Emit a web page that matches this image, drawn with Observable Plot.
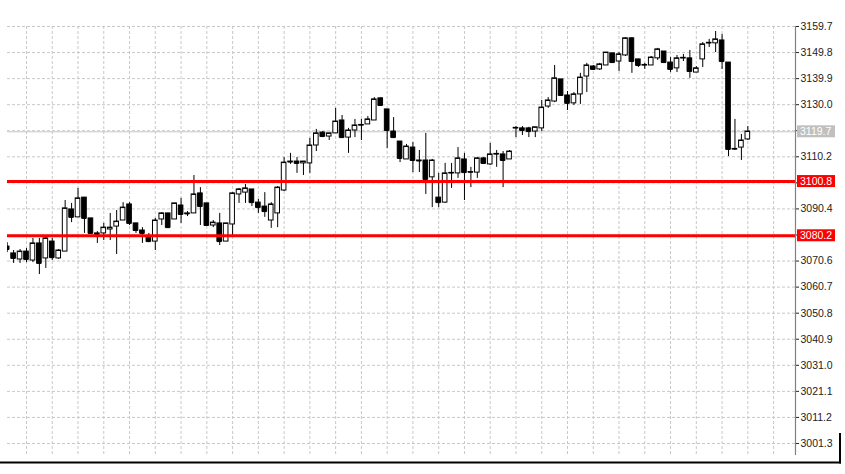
<!DOCTYPE html>
<html><head><meta charset="utf-8">
<script src="https://cdn.jsdelivr.net/npm/d3@7"></script>
<script src="https://cdn.jsdelivr.net/npm/@observablehq/plot@0.6"></script>
<style>
html,body{margin:0;padding:0;background:#fff;}
#chart svg{display:block;}
</style>
</head><body><div id="chart"></div>
<script>
const openV = [3076.1,3073.5,3071.2,3074.2,3070.8,3077.3,3071.6,3078.0,3071.6,3074.2,
3090.2,3087.2,3094.7,3086.8,3081.1,3081.1,3082.6,3083.7,3086.0,3092.1,
3084.9,3082.2,3079.5,3078.0,3086.4,3088.7,3086.4,3091.7,3088.7,3088.7,
3096.3,3092.5,3084.1,3084.9,3078.0,3084.5,3095.9,3096.6,3097.8,3092.8,
3091.3,3086.0,3088.7,3097.4,3108.4,3108.4,3107.7,3107.7,3114.5,3119.4,
3117.9,3119.1,3124.0,3117.5,3120.2,3122.1,3122.5,3124.0,3132.4,3128.2,
3119.8,3116.0,3109.2,3113.7,3108.8,3108.8,3102.4,3094.7,3092.8,3103.9,
3103.9,3109.2,3104.2,3104.2,3109.6,3107.3,3111.1,3111.1,3109.2,3121.0,
3121.0,3121.0,3119.8,3121.0,3129.3,3131.2,3139.6,3133.5,3130.5,3133.9,
3140.7,3144.5,3143.4,3144.9,3149.5,3146.4,3148.7,3155.2,3147.2,3144.9,
3144.9,3147.6,3150.2,3146.0,3143.8,3147.6,3147.6,3142.2,3147.2,3153.3,
3153.3,3154.4,3146.0,3113.0,3113.7,3116.8];
const highV = [3077.6,3074.6,3075.0,3075.4,3079.2,3079.2,3079.5,3079.2,3075.0,3093.6,
3092.5,3098.2,3094.7,3086.8,3081.8,3084.9,3088.7,3089.8,3092.8,3092.8,
3084.9,3083.3,3081.1,3086.8,3089.0,3088.7,3092.5,3094.4,3089.4,3103.1,
3098.5,3092.5,3086.0,3088.7,3084.9,3096.6,3098.2,3099.7,3097.8,3094.0,
3096.6,3092.8,3098.9,3109.9,3111.5,3109.9,3108.4,3117.2,3120.6,3119.8,
3119.1,3128.6,3125.9,3121.0,3124.4,3124.4,3125.5,3132.7,3132.7,3128.2,
3125.1,3116.0,3114.9,3115.6,3112.6,3119.1,3109.2,3103.9,3107.7,3107.7,
3113.7,3111.5,3106.2,3109.9,3109.9,3115.3,3112.6,3112.2,3112.6,3121.7,
3121.7,3121.4,3121.4,3131.6,3132.7,3144.9,3139.6,3135.0,3134.6,3141.9,
3145.7,3144.9,3145.7,3149.8,3149.5,3149.8,3155.5,3155.5,3147.2,3145.7,
3148.3,3151.4,3150.2,3147.9,3148.7,3149.1,3150.6,3144.5,3153.6,3154.8,
3157.8,3156.7,3146.0,3124.4,3118.7,3121.7];
const lowV = [3073.8,3069.7,3069.7,3070.0,3070.0,3065.5,3067.8,3070.8,3071.2,3074.2,
3085.2,3087.2,3081.1,3081.1,3077.3,3078.4,3078.4,3073.1,3086.0,3084.1,
3081.1,3077.3,3077.6,3074.6,3084.1,3083.3,3086.4,3084.9,3087.5,3088.7,
3084.1,3084.1,3083.3,3076.5,3078.0,3080.3,3092.5,3092.5,3091.3,3088.7,
3087.2,3083.0,3083.3,3097.0,3107.3,3103.9,3103.1,3103.9,3112.2,3117.5,
3116.4,3119.1,3117.5,3111.5,3117.5,3116.4,3122.5,3124.0,3129.7,3113.4,
3117.5,3108.0,3109.2,3104.2,3104.2,3095.9,3090.9,3090.9,3092.5,3098.2,
3102.0,3093.6,3098.5,3102.0,3107.3,3106.9,3106.2,3098.5,3109.2,3117.5,
3118.3,3117.5,3117.5,3119.8,3128.6,3130.8,3133.5,3127.8,3129.7,3130.1,
3134.6,3143.0,3143.0,3144.9,3146.0,3142.6,3148.3,3141.9,3144.1,3143.4,
3144.9,3146.8,3146.0,3142.2,3142.2,3146.4,3140.0,3142.2,3144.1,3151.7,
3149.8,3143.4,3110.3,3112.6,3108.8,3116.4];
const closeV = [3075.0,3071.6,3074.2,3071.2,3077.3,3069.7,3079.2,3071.9,3074.6,3090.6,
3087.2,3094.4,3086.8,3081.1,3080.7,3083.3,3083.3,3085.6,3090.9,3084.9,
3082.2,3081.1,3078.0,3086.0,3088.7,3083.3,3092.5,3088.3,3088.5,3095.9,
3091.3,3084.1,3085.2,3078.0,3084.9,3096.3,3097.8,3098.2,3092.8,3090.9,
3089.4,3092.1,3098.5,3108.0,3108.2,3107.7,3108.4,3114.5,3119.1,3117.9,
3119.1,3123.6,3117.5,3120.2,3122.1,3122.3,3124.4,3132.0,3129.7,3120.2,
3117.5,3109.6,3114.1,3108.8,3108.6,3101.6,3108.8,3092.8,3103.9,3104.1,
3109.6,3104.2,3104.4,3109.6,3107.7,3111.1,3111.3,3108.8,3112.2,3121.2,
3120.2,3119.8,3121.4,3128.9,3131.6,3140.0,3133.5,3130.5,3133.9,3140.3,
3144.9,3143.4,3145.3,3149.8,3146.0,3149.1,3155.2,3146.4,3144.9,3145.1,
3147.9,3151.0,3146.0,3143.4,3147.6,3147.8,3142.6,3143.8,3152.9,3153.5,
3154.8,3146.4,3113.0,3113.2,3116.4,3119.8];

const tickValues = [3001.3,3011.2,3021.1,3031.0,3040.9,3050.8,3060.7,3070.6,3080.5,3090.4,3100.3,3110.2,3120.1,3130.0,3139.9,3149.8,3159.7];
const hiddenTicks = [3080.5, 3100.3, 3120.1];
const levelValues = [3100.8, 3080.2];
const currentPrice = 3119.7;
const gridIndex = d3.range(3, 122, 4);

const candles = openV.map((o, i) => ({i, open: o, high: highV[i], low: lowV[i], close: closeV[i]}));
const bw = 0.36;

const chart = Plot.plot({
  width: 845,
  height: 474,
  marginLeft: 7,
  marginRight: 50,
  marginTop: 26,
  marginBottom: 19,
  style: {fontFamily: "'Liberation Sans', Arial, sans-serif", fontSize: "10.5px", color: "#222", background: "#fff", overflow: "visible"},
  x: {domain: [0.05, 122.4], axis: null},
  y: {domain: [2996.74, 3159.7], axis: "right", ticks: tickValues, tickSize: 3, tickPadding: 2,
      tickFormat: d => hiddenTicks.includes(d) ? "" : d.toFixed(1), label: null},
  marks: [
    Plot.ruleX(gridIndex, {x: d => d, stroke: "#c8c8c8", strokeDasharray: "3,2"}),
    Plot.ruleY(tickValues, {y: d => d, stroke: "#c8c8c8", strokeDasharray: "3,2"}),
    Plot.ruleY([currentPrice], {y: d => d, stroke: "#c8c8c8"}),
    Plot.ruleX(candles, {x: "i", y1: "low", y2: "high", stroke: "#000", clip: true}),
    Plot.rect(candles, {x1: d => d.i - bw, x2: d => d.i + bw, y1: "open", y2: "close",
      fill: d => d.close > d.open ? "#fff" : "#000", stroke: "#000", strokeWidth: 1, clip: true}),
    Plot.ruleY(candles, {y: "close", x1: d => d.i - bw, x2: d => d.i + bw, stroke: "#000", clip: true}),
    Plot.ruleY(levelValues, {y: d => d, stroke: "#ff0000", strokeWidth: 3})
  ]
});
document.getElementById("chart").appendChild(chart);

const svg = d3.select(chart);
const xs = chart.scale("x"), ys = chart.scale("y");
const yScale = d3.scaleLinear(ys.domain, ys.range);
const xr = Math.max(...xs.range);
const yTop = Math.min(...ys.range), yBot = Math.max(...ys.range);
svg.append("line").attr("x1", xr + 0.5).attr("x2", xr + 0.5).attr("y1", yTop).attr("y2", yBot)
  .attr("stroke", "#808080").attr("stroke-width", 1.2);
const tags = [
  {v: currentPrice, fill: "#c0c0c0"},
  {v: levelValues[0], fill: "#ff0000"},
  {v: levelValues[1], fill: "#ff0000"}
];
for (const t of tags) {
  const yy = yScale(t.v);
  svg.append("rect").attr("x", xr + 2).attr("y", yy - 6).attr("width", 38).attr("height", 12).attr("fill", t.fill);
  svg.append("text").attr("x", xr + 5).attr("y", yy).attr("dy", "0.35em").attr("fill", "#fff")
    .attr("text-anchor", "start")
    .attr("font-family", "'Liberation Sans', Arial, sans-serif").attr("font-size", "10.5px").text(t.v.toFixed(1));
}
svg.append("line").attr("x1", 0).attr("x2", 841).attr("y1", 462.5).attr("y2", 462.5).attr("stroke", "#000").attr("stroke-width", 2);
svg.append("line").attr("x1", 840).attr("x2", 840).attr("y1", 433).attr("y2", 463.5).attr("stroke", "#000").attr("stroke-width", 2);
</script>
</body></html>
